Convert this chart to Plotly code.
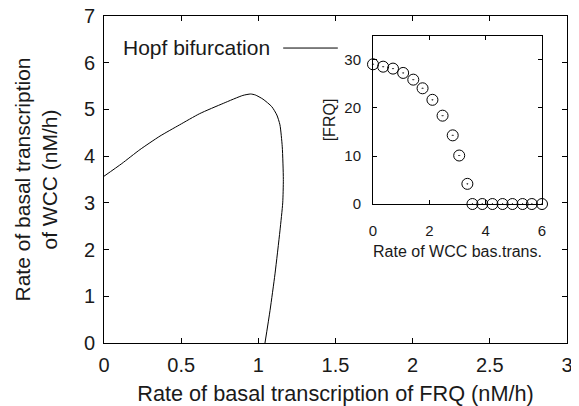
import plotly.graph_objects as go

# Main curve: Hopf bifurcation boundary
hopf_frq = [0.0, 0.115, 0.233, 0.363, 0.49, 0.62, 0.773, 0.90, 0.95, 0.98, 1.03, 1.087, 1.12, 1.14, 1.155, 1.162, 1.158, 1.14, 1.108, 1.076, 1.043]
hopf_wcc = [3.57, 3.84, 4.14, 4.43, 4.67, 4.91, 5.13, 5.30, 5.33, 5.31, 5.22, 5.06, 4.88, 4.67, 4.20, 3.50, 3.00, 2.40, 1.48, 0.70, 0.0]

# Inset: FRQ vs WCC basal transcription
inset_wcc = [0.0, 0.36, 0.71, 1.07, 1.43, 1.76, 2.11, 2.47, 2.83, 3.06, 3.35, 3.53, 3.88, 4.24, 4.6, 4.95, 5.31, 5.64, 6.0]
inset_frq = [29.1, 28.6, 28.2, 27.3, 25.9, 24.1, 21.7, 18.4, 14.3, 10.1, 4.2, 0, 0, 0, 0, 0, 0, 0, 0]

main_xticks = [0, 0.5, 1, 1.5, 2, 2.5, 3]
main_yticks = [0, 1, 2, 3, 4, 5, 6, 7]
inset_xticks = [0, 2, 4, 6]
inset_yticks = [0, 10, 20, 30]

FONT = "Liberation Sans, Arial, Helvetica, sans-serif"
TXT = "#1a1a1a"

fig = go.Figure()
fig.add_trace(go.Scatter(x=hopf_frq, y=hopf_wcc, mode="lines",
                         line=dict(color="black", width=1, shape="spline", smoothing=0.6),
                         showlegend=False, xaxis="x", yaxis="y"))
fig.add_trace(go.Scatter(x=inset_wcc, y=inset_frq, mode="markers",
                         marker=dict(symbol="circle-open-dot", size=11, color="black",
                                     line=dict(width=1, color="black")),
                         cliponaxis=False, showlegend=False, xaxis="x2", yaxis="y2"))

axis_common = dict(showline=True, linecolor="black", linewidth=1, mirror="allticks",
                   ticks="inside", ticklen=5, tickcolor="black", showgrid=False,
                   zeroline=False, automargin=False, ticklabeloverflow="allow",
                   tickfont=dict(family=FONT, size=20, color=TXT))
inset_common = {**axis_common, "tickfont": dict(family=FONT, size=15, color=TXT), "ticklen": 4}

# the page body adds an 8px offset, compensated in the left/top margins
fig.update_layout(
    width=579, height=406,
    margin=dict(l=96, r=20, t=8, b=71),
    paper_bgcolor="white", plot_bgcolor="white",
    font=dict(family=FONT, color=TXT),
    xaxis=dict(range=[0, 3], tickvals=main_xticks, domain=[0, 1],
               title=dict(text="Rate of basal transcription of FRQ (nM/h)",
                          font=dict(size=21.7), standoff=10),
               ticklabelstandoff=4,
               **axis_common),
    yaxis=dict(range=[0, 7], tickvals=main_yticks, domain=[0, 1],
               title=dict(text="Rate of basal transcription<br>of WCC (nM/h)",
                          font=dict(size=21), standoff=20),
               ticklabelstandoff=4,
               **axis_common),
    xaxis2=dict(range=[0, 6], tickvals=inset_xticks, domain=[0.581, 0.946], anchor="y2",
                title=dict(text="Rate of WCC bas.trans.", font=dict(size=16), standoff=7),
                ticklabelstandoff=13,
                **inset_common),
    yaxis2=dict(range=[0, 35], tickvals=inset_yticks, domain=[0.425, 0.939], anchor="x2",
                title=dict(text="[FRQ]", font=dict(size=16), standoff=4),
                ticklabelstandoff=8,
                **inset_common),
    annotations=[dict(text="Hopf bifurcation", x=0.037, y=0.904, xref="paper", yref="paper",
                      xanchor="left", yanchor="middle", showarrow=False,
                      font=dict(family=FONT, size=21, color=TXT))],
    shapes=[dict(type="line", xref="paper", yref="paper", x0=0.387, x1=0.505, y0=0.902, y1=0.902,
                 line=dict(color="black", width=1))],
)

fig.write_html("out.html")
